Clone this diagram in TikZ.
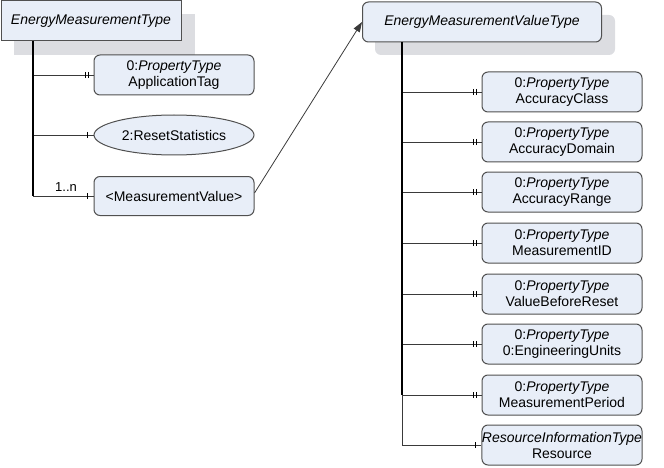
\documentclass[tikz,border=0pt]{standalone}
\usepackage{fontspec}
\setmainfont{Liberation Sans}
\usetikzlibrary{arrows.meta,shapes.geometric}
\definecolor{boxfill}{HTML}{E8EEF8}
\definecolor{boxline}{HTML}{505050}
\definecolor{shadowc}{HTML}{DCDDE1}
\definecolor{branchc}{HTML}{3A3A3A}
\begin{document}
\begin{tikzpicture}[x=1pt,y=-1pt,
  txt/.style={font=\fontsize{14}{16}\selectfont, align=center, text=black, inner sep=0pt},
  hdr/.style={txt, draw=boxline, line width=1pt, fill=boxfill, minimum height=40pt},
  prop/.style={txt, draw=boxline, line width=1pt, fill=boxfill, rounded corners=6pt, minimum width=160pt, minimum height=40pt},
  ell/.style={txt, draw=boxline, line width=1pt, fill=boxfill, ellipse, minimum width=160pt, minimum height=40pt},
  branch/.style={draw=branchc, line width=0.9pt},
  trunk/.style={draw=black, line width=1.6pt},
  tick/.style={draw=black, line width=0.9pt}
]
\useasboundingbox (0,0) rectangle (664,468);
% shadows
\fill[shadowc] (14,14) rectangle (195,55);
\fill[shadowc, rounded corners=6pt] (375,15) rectangle (615,55);
% left header
\node[hdr, minimum width=180pt] (emt) at (91,21) {\textit{EnergyMeasurementType}};
% right header
\node[hdr, rounded corners=6pt, minimum width=239pt] (emv) at (482,22) {\textit{EnergyMeasurementValueType}};
% left children
\node[prop] (apptag) at (174,75) {0:\textit{PropertyType}\\ApplicationTag};
\node[ell] (reset) at (174,135) {2:ResetStatistics};
\node[prop, minimum height=39pt] (mv) at (174,196) {<MeasurementValue>};
% right children
\node[prop] (acls) at (562,92) {0:\textit{PropertyType}\\AccuracyClass};
\node[prop] (adom) at (562,142) {0:\textit{PropertyType}\\AccuracyDomain};
\node[prop] (arng) at (562,192) {0:\textit{PropertyType}\\AccuracyRange};
\node[prop] (mid) at (562,243) {0:\textit{PropertyType}\\MeasurementID};
\node[prop] (vbr) at (562,294) {0:\textit{PropertyType}\\ValueBeforeReset};
\node[prop] (eu) at (562,344) {0:\textit{PropertyType}\\0:EngineeringUnits};
\node[prop] (mp) at (562,395) {0:\textit{PropertyType}\\MeasurementPeriod};
\node[prop] (res) at (562,445) {\textit{ResourceInformationType}\\Resource};
% left trunk
\coordinate (lt0) at (33,41);
\coordinate (lt1) at (33,75);
\coordinate (lt2) at (33,135);
\coordinate (lt3) at (33,196);
\draw[branch] (lt1) -- (apptag.west);
\draw[branch] (lt2) -- (reset.west);
\draw[branch] (lt3) -- (mv.west);
\draw[trunk, line width=1.4pt] (lt0) -- (lt3);
\node[txt, font=\fontsize{13}{14}\selectfont] (mult) at (66,187) {1..n};
% ticks left
\draw[tick] ([xshift=-8pt,yshift=3pt]apptag.west) -- ++(0,6);
\draw[tick] ([xshift=-5.5pt,yshift=3pt]apptag.west) -- ++(0,6);
\draw[tick] ([xshift=-6pt,yshift=3pt]reset.west) -- ++(0,6);
\draw[tick] ([xshift=-6pt,yshift=3pt]mv.west) -- ++(0,6);
% right trunk
\coordinate (rt0) at (402,42);
\coordinate (rt1) at (402,92);
\coordinate (rt2) at (402,142);
\coordinate (rt3) at (402,192);
\coordinate (rt4) at (402,243);
\coordinate (rt5) at (402,294);
\coordinate (rt6) at (402,344);
\coordinate (rt7) at (402,395);
\coordinate (rt8) at (402,445);
\foreach \c/\n in {rt1/acls,rt2/adom,rt3/arng,rt4/mid,rt5/vbr,rt6/eu,rt7/mp,rt8/res}{
  \draw[branch] (\c) -- (\n.west);
}
\draw[trunk, line width=2pt] (rt0) -- (rt7);
\draw[branch] (rt7) -- (rt8);
\foreach \n in {acls,adom,arng,mid,vbr,eu,mp}{
  \draw[tick] ([xshift=-8pt,yshift=3pt]\n.west) -- ++(0,6);
  \draw[tick] ([xshift=-5.5pt,yshift=3pt]\n.west) -- ++(0,6);
}
\draw[tick] ([xshift=-6pt,yshift=3pt]res.west) -- ++(0,6);
% arrow
\draw[line width=0.8pt, draw=branchc, -{Triangle[length=10pt,width=7pt]}] ([yshift=3pt]mv.east) -- (emv.west);
\end{tikzpicture}
\end{document}
